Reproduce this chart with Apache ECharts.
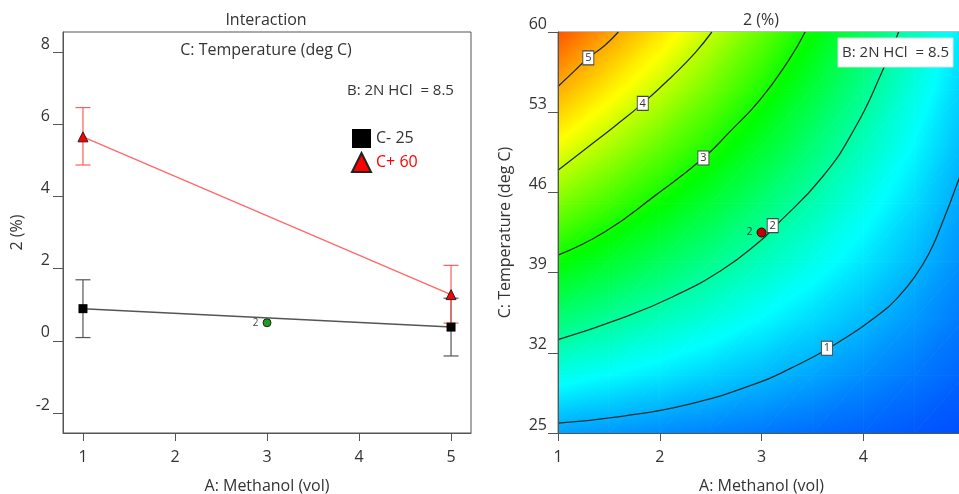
<!DOCTYPE html>
<html>
<head>
<meta charset="utf-8">
<script src="https://cdn.jsdelivr.net/npm/echarts@6/dist/echarts.min.js"></script>
<style>
  html, body { margin: 0; padding: 0; background: #fff; }
  #chart { width: 959px; height: 494px; }
</style>
</head>
<body>
<div id="chart"></div>
<script>
// ---- interaction plot (left) ----
const methanolLevels = [1, 5]
const lowTempMean = [0.89, 0.38]      // C- 25
const lowTempLower = [0.09, -0.42]
const lowTempUpper = [1.69, 1.18]
const highTempMean = [5.65, 1.28]     // C+ 60
const highTempLower = [4.87, 0.49]
const highTempUpper = [6.46, 2.09]
const centerPoint = [3, 0.5]

const xTicks = [1, 2, 3, 4, 5]
const yTicksLeft = [-2, 0, 2, 4, 6, 8]
const yTicksRight = [25, 32, 39, 46, 53, 60]

// ---- contour plot (right) ----
const surfaceX = [1, 1.5, 2, 2.5, 3, 3.5, 4, 4.5, 5]
const surfaceY = [25, 30, 35, 40, 45, 50, 55, 60]
const surface = [
  [0.89, 0.83, 0.76, 0.70, 0.64, 0.57, 0.51, 0.44, 0.38],
  [1.57, 1.44, 1.31, 1.17, 1.04, 0.91, 0.77, 0.64, 0.51],
  [2.25, 2.05, 1.85, 1.65, 1.44, 1.24, 1.04, 0.84, 0.64],
  [2.93, 2.66, 2.39, 2.12, 1.85, 1.58, 1.31, 1.04, 0.77],
  [3.61, 3.27, 2.93, 2.59, 2.25, 1.91, 1.57, 1.23, 0.89],
  [4.29, 3.88, 3.47, 3.07, 2.66, 2.25, 1.84, 1.43, 1.02],
  [4.97, 4.49, 4.02, 3.54, 3.06, 2.58, 2.11, 1.63, 1.15],
  [5.65, 5.10, 4.56, 4.01, 3.47, 2.92, 2.37, 1.83, 1.28]
]

const contour1 = [[1, 25.87], [1.627, 26.46], [2.282, 27.5], [2.938, 29.28], [3.265, 30.55], [3.692, 32.57], [4.184, 35.55], [4.347, 36.9], [4.511, 38.7], [4.642, 40.6], [4.757, 42.9], [4.944, 47.26], [5, 48.9]]
const contour2 = [[1, 33.14], [1.627, 35.03], [2.118, 36.85], [2.61, 39.23], [2.987, 41.76], [3.134, 43.04], [3.594, 47.3], [3.921, 51.66], [4.184, 56.5], [4.347, 60]]
const contour3 = [[1, 40.53], [1.462, 42.57], [1.954, 45.72], [2.429, 49.0], [2.692, 51.33], [2.987, 54.1], [3.265, 57.5], [3.429, 60]]
const contour4 = [[1, 47.93], [1.298, 49.98], [1.561, 51.8], [1.833, 53.77], [2.118, 56.1], [2.347, 58.18], [2.512, 60]]
const contour5 = [[1, 55.24], [1.167, 56.65], [1.298, 57.74], [1.462, 58.85], [1.593, 60]]
const contourLabels = [[1.298, 57.74, 5], [1.833, 53.77, 4], [2.429, 49.0, 3], [3.11, 43.1, 2], [3.643, 32.4, 1]]
const designPoint = [3, 42.5]

const FONT = 'Open Sans'
const TEXT = '#333'
const AXIS = '#555'

// colour ramp blue -> cyan -> green -> yellow -> red
const ramp = [
  [-0.09, [0, 0, 255]],
  [1.45, [0, 255, 255]],
  [2.9, [0, 255, 0]],
  [4.35, [255, 255, 0]],
  [6.3, [255, 0, 0]]
]
const rampColor = (v) => {
  if (v <= ramp[0][0]) return 'rgb(' + ramp[0][1].join(',') + ')'
  for (let i = 1; i < ramp.length; i++) {
    if (v <= ramp[i][0]) {
      const t = (v - ramp[i - 1][0]) / (ramp[i][0] - ramp[i - 1][0])
      const a = ramp[i - 1][1], b = ramp[i][1]
      return 'rgb(' + a.map((c, k) => Math.round(c + (b[k] - c) * t)).join(',') + ')'
    }
  }
  return 'rgb(' + ramp[ramp.length - 1][1].join(',') + ')'
}

// linear gradient that shades a triangle exactly for a linearly varying value
const triangleFill = (P, F) => {
  const e1 = [P[1][0] - P[0][0], P[1][1] - P[0][1]]
  const e2 = [P[2][0] - P[0][0], P[2][1] - P[0][1]]
  const d1 = F[1] - F[0], d2 = F[2] - F[0]
  const det = e1[0] * e2[1] - e1[1] * e2[0]
  const gx = (d1 * e2[1] - d2 * e1[1]) / det
  const gy = (e1[0] * d2 - d1 * e2[0]) / det
  const g2 = gx * gx + gy * gy
  const fmin = Math.min(...F), fmax = Math.max(...F)
  if (g2 < 1e-12 || fmax - fmin < 1e-6) return rampColor(F[0])
  const sx = P[0][0] + (fmin - F[0]) * gx / g2
  const sy = P[0][1] + (fmin - F[0]) * gy / g2
  const ex = P[0][0] + (fmax - F[0]) * gx / g2
  const ey = P[0][1] + (fmax - F[0]) * gy / g2
  const stops = [{ offset: 0, color: rampColor(fmin) }]
  ramp.forEach(([lv]) => {
    if (lv > fmin && lv < fmax) stops.push({ offset: (lv - fmin) / (fmax - fmin), color: rampColor(lv) })
  })
  stops.push({ offset: 1, color: rampColor(fmax) })
  return new echarts.graphic.LinearGradient(sx, sy, ex, ey, stops, true)
}

const cells = []
for (let j = 0; j < surfaceY.length - 1; j++) {
  for (let i = 0; i < surfaceX.length - 1; i++) {
    cells.push([surfaceX[i], surfaceY[j], surfaceX[i + 1], surfaceY[j + 1],
      surface[j][i], surface[j][i + 1], surface[j + 1][i], surface[j + 1][i + 1]])
  }
}

const renderCell = (params, api) => {
  const x0 = api.value(0), y0 = api.value(1), x1 = api.value(2), y1 = api.value(3)
  const p00 = api.coord([x0, y0]), p10 = api.coord([x1, y0])
  const p01 = api.coord([x0, y1]), p11 = api.coord([x1, y1])
  const v00 = api.value(4), v10 = api.value(5), v01 = api.value(6), v11 = api.value(7)
  const tri = (P, F) => {
    const g = triangleFill(P, F)
    return { type: 'polygon', shape: { points: P }, style: { fill: g, stroke: g, lineWidth: 0.8 } }
  }
  return {
    type: 'group',
    children: [tri([p00, p10, p11], [v00, v10, v11]), tri([p00, p11, p01], [v00, v11, v01])]
  }
}

const renderErrorBar = (params, api) => {
  const x = api.value(0)
  const lo = api.coord([x, api.value(1)])
  const hi = api.coord([x, api.value(2)])
  const half = 7.5
  const style = { stroke: api.visual('color'), lineWidth: 1.2 }
  return {
    type: 'group',
    children: [
      { type: 'line', shape: { x1: hi[0], y1: hi[1], x2: lo[0], y2: lo[1] }, style },
      { type: 'line', shape: { x1: hi[0] - half, y1: hi[1], x2: hi[0] + half, y2: hi[1] }, style },
      { type: 'line', shape: { x1: lo[0] - half, y1: lo[1], x2: lo[0] + half, y2: lo[1] }, style }
    ]
  }
}

const contourLine = (data) => ({
  type: 'line',
  xAxisIndex: 1,
  yAxisIndex: 1,
  data: data,
  smooth: 0.5,
  symbol: 'none',
  silent: true,
  z: 4,
  lineStyle: { color: '#1c2e2b', width: 1.3 }
})

const axisCommon = {
  axisLine: { show: true, onZero: false, lineStyle: { color: AXIS } },
  splitLine: { show: false },
  z: 5
}

const chart = echarts.init(document.getElementById('chart'))

const option = {
  animation: false,
  textStyle: { fontFamily: FONT },
  grid: [
    { left: 63, top: 32, width: 408, height: 401, show: true, borderColor: AXIS, borderWidth: 1, outerBoundsMode: 'none', containLabel: false },
    { left: 558, top: 32, width: 407, height: 401, show: true, borderColor: '#777', borderWidth: 1, outerBoundsMode: 'none', containLabel: false }
  ],
  xAxis: [
    {
      ...axisCommon,
      type: 'value', gridIndex: 0, min: 0.783, max: 5.217,
      name: 'A: Methanol (vol)', nameLocation: 'middle', nameGap: 45,
      nameTextStyle: { color: TEXT, fontSize: 16, fontFamily: FONT },
      axisTick: { show: true, length: 8, lineStyle: { color: AXIS }, customValues: xTicks },
      axisLabel: { color: TEXT, fontSize: 16, margin: 16, fontFamily: FONT, customValues: xTicks }
    },
    {
      ...axisCommon,
      type: 'value', gridIndex: 1, min: 1, max: 5,
      name: 'A: Methanol (vol)', nameLocation: 'middle', nameGap: 45,
      nameTextStyle: { color: TEXT, fontSize: 16, fontFamily: FONT },
      axisTick: { show: true, length: 8, lineStyle: { color: AXIS }, customValues: xTicks },
      axisLabel: { color: TEXT, fontSize: 16, margin: 16, fontFamily: FONT, customValues: xTicks }
    }
  ],
  yAxis: [
    {
      ...axisCommon,
      type: 'value', gridIndex: 0, min: -2.554, max: 8.554,
      name: '2 (%)', nameLocation: 'middle', nameGap: 38,
      nameTextStyle: { color: TEXT, fontSize: 16, fontFamily: FONT },
      axisTick: { show: true, length: 10, lineStyle: { color: AXIS }, customValues: yTicksLeft },
      axisLabel: { color: TEXT, fontSize: 16, margin: 13, verticalAlign: 'bottom', fontFamily: FONT, customValues: yTicksLeft }
    },
    {
      ...axisCommon,
      type: 'value', gridIndex: 1, min: 25, max: 60,
      name: 'C: Temperature (deg C)', nameLocation: 'middle', nameGap: 45,
      nameTextStyle: { color: TEXT, fontSize: 16, fontFamily: FONT },
      axisTick: { show: true, length: 10, lineStyle: { color: AXIS }, customValues: yTicksRight },
      axisLabel: { color: TEXT, fontSize: 16, margin: 11, verticalAlign: 'bottom', fontFamily: FONT, customValues: yTicksRight }
    }
  ],
  legend: {
    left: 346, top: 124, orient: 'vertical',
    itemWidth: 19, itemHeight: 19, itemGap: 4,
    selectedMode: false,
    textStyle: { fontSize: 16, color: TEXT, fontFamily: FONT },
    data: [
      { name: 'C- 25', icon: 'rect' },
      { name: 'C+ 60', icon: 'triangle', textStyle: { color: '#ff0000' } }
    ]
  },
  graphic: [
    { type: 'text', x: 266, y: 20, style: { text: 'Interaction', fill: TEXT, font: '16px "Open Sans"', align: 'center', verticalAlign: 'middle' } },
    { type: 'text', x: 266, y: 50, style: { text: 'C: Temperature (deg C)', fill: TEXT, font: '16px "Open Sans"', align: 'center', verticalAlign: 'middle' } },
    { type: 'text', x: 347, y: 91, style: { text: 'B: 2N HCl  = 8.5', fill: TEXT, font: '15px "Open Sans"', align: 'left', verticalAlign: 'middle' } },
    { type: 'text', x: 761, y: 20, style: { text: '2 (%)', fill: TEXT, font: '16px "Open Sans"', align: 'center', verticalAlign: 'middle' } },
    { type: 'rect', z: 100, shape: { x: 838, y: 38, width: 115, height: 29 }, style: { fill: '#fff', stroke: '#ddd', lineWidth: 1 } },
    { type: 'text', z: 101, x: 895.5, y: 53, style: { text: 'B: 2N HCl  = 8.5', fill: TEXT, font: '15px "Open Sans"', align: 'center', verticalAlign: 'middle' } }
  ],
  series: [
    // left panel
    {
      type: 'custom', name: 'err-low', xAxisIndex: 0, yAxisIndex: 0,
      renderItem: renderErrorBar, encode: { x: 0, y: [1, 2] },
      itemStyle: { color: '#555' }, z: 2, silent: true,
      data: methanolLevels.map((x, i) => [x, lowTempLower[i], lowTempUpper[i]])
    },
    {
      type: 'custom', name: 'err-high', xAxisIndex: 0, yAxisIndex: 0,
      renderItem: renderErrorBar, encode: { x: 0, y: [1, 2] },
      itemStyle: { color: '#ff5c5c' }, z: 2, silent: true,
      data: methanolLevels.map((x, i) => [x, highTempLower[i], highTempUpper[i]])
    },
    {
      type: 'line', name: 'C- 25', xAxisIndex: 0, yAxisIndex: 0,
      data: methanolLevels.map((x, i) => [x, lowTempMean[i]]),
      symbol: 'rect', symbolSize: 9, z: 4,
      itemStyle: { color: '#000' },
      lineStyle: { color: '#555', width: 1.5 }
    },
    {
      type: 'line', name: 'C+ 60', xAxisIndex: 0, yAxisIndex: 0,
      data: methanolLevels.map((x, i) => [x, highTempMean[i]]),
      symbol: 'triangle', symbolSize: 10, z: 4,
      itemStyle: { color: '#ff0000', borderColor: '#222', borderWidth: 1 },
      lineStyle: { color: '#ff6b6b', width: 1.5 }
    },
    {
      type: 'scatter', name: 'center', xAxisIndex: 0, yAxisIndex: 0,
      data: [centerPoint], symbolSize: 8, z: 5,
      itemStyle: { color: '#1b9e1b', borderColor: '#222', borderWidth: 1, opacity: 1 },
      label: { show: true, position: 'left', distance: 4, formatter: '2', fontSize: 10, color: '#444' }
    },
    // right panel
    {
      type: 'custom', name: 'surface', xAxisIndex: 1, yAxisIndex: 1,
      renderItem: renderCell, encode: { x: [0, 2], y: [1, 3] },
      clip: true, silent: true, z: 1,
      data: cells
    },
    contourLine(contour1),
    contourLine(contour2),
    contourLine(contour3),
    contourLine(contour4),
    contourLine(contour5),
    {
      type: 'scatter', name: 'levels', xAxisIndex: 1, yAxisIndex: 1,
      data: contourLabels, symbol: 'rect', symbolSize: [11, 14], z: 6, silent: true,
      itemStyle: { color: '#fff', borderColor: '#444', borderWidth: 1, opacity: 1 },
      label: { show: true, position: 'inside', formatter: (p) => p.value[2], fontSize: 11, color: '#333' }
    },
    {
      type: 'scatter', name: 'design', xAxisIndex: 1, yAxisIndex: 1,
      data: [designPoint], symbolSize: 9, z: 6, silent: true,
      itemStyle: { color: '#c00000', borderColor: '#300', borderWidth: 1, opacity: 1 },
      label: { show: true, position: 'left', distance: 4, formatter: '2', fontSize: 10, color: '#333' }
    }
  ]
}

chart.setOption(option)
</script>
</body>
</html>
